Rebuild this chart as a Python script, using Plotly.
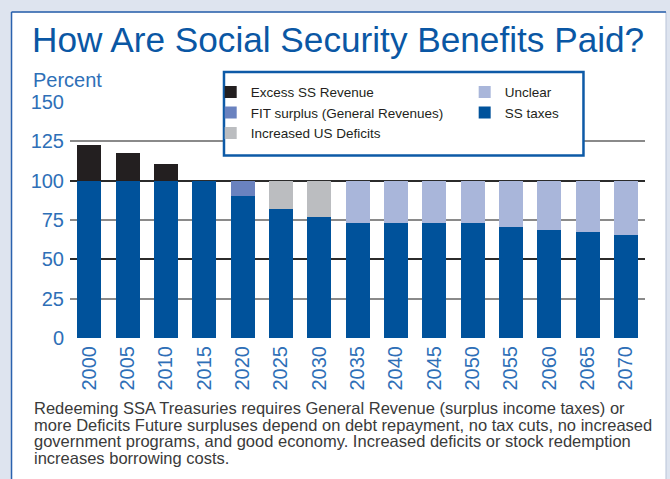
import plotly.graph_objects as go

# ---------------- data ----------------
years = ["2000", "2005", "2010", "2015", "2020", "2025", "2030", "2035",
         "2040", "2045", "2050", "2055", "2060", "2065", "2070"]
ss_taxes = [100, 100, 100, 100, 90, 82, 77, 73, 73, 73, 73, 70.5, 68.5, 67.5, 65.5]
fit_surplus = [None, None, None, None, 10, None, None, None,
               None, None, None, None, None, None, None]
increased_deficits = [None, None, None, None, None, 18, 23, None,
                      None, None, None, None, None, None, None]
unclear = [None, None, None, None, None, None, None, 27,
           27, 27, 27, 29.5, 31.5, 32.5, 34.5]
excess_ss_revenue = [22.5, 17.5, 10.5, None, None, None, None, None,
                     None, None, None, None, None, None, None]
y_ticks = [0, 25, 50, 75, 100, 125, 150]

title_text = "How Are Social Security Benefits Paid?"
footer_lines = [
    "Redeeming SSA Treasuries requires General Revenue (surplus income taxes) or",
    "more Deficits Future surpluses depend on debt repayment, no tax cuts, no increased",
    "government programs, and good economy. Increased deficits or stock redemption",
    "increases borrowing costs.",
]

# ---------------- styles ----------------
C_SS = "#00529B"
C_FIT = "#6A82BF"
C_DEF = "#BBBDC0"
C_UNC = "#A9B6DA"
C_EXC = "#231F20"
BLUE_TXT = "#2E6FB7"
TITLE_BLUE = "#0A57A4"
OUTER = "#DEE4EF"
SANS = "Liberation Sans, Arial, sans-serif"

fig = go.Figure()
# (name, values, colour, legend id, rank within legend)
series = [
    ("SS taxes", ss_taxes, C_SS, "legend2", 2),
    ("FIT surplus (General Revenues)", fit_surplus, C_FIT, "legend", 2),
    ("Increased US Deficits", increased_deficits, C_DEF, "legend", 3),
    ("Unclear", unclear, C_UNC, "legend2", 1),
    ("Excess SS Revenue", excess_ss_revenue, C_EXC, "legend", 1),
]
for name, vals, col, leg, rank in series:
    fig.add_trace(go.Bar(x=years, y=vals, name=name, legend=leg, legendrank=rank,
                         marker=dict(color=col, line=dict(width=0))))

# invisible trace to hold the overlay axis carrying the darker grid lines
fig.add_trace(go.Scatter(x=years, y=[None] * len(years), yaxis="y2", mode="lines",
                         showlegend=False, hoverinfo="skip"))

legend_common = dict(orientation="v", xanchor="left", yanchor="top", itemwidth=30,
                     bgcolor="rgba(0,0,0,0)", borderwidth=0, traceorder="normal",
                     font=dict(family=SANS, size=13.5, color="#231F20"))

fig.update_layout(
    width=670, height=479,
    margin=dict(l=70, r=25, t=102, b=141),
    paper_bgcolor=OUTER, plot_bgcolor="rgba(0,0,0,0)",
    barmode="stack", bargap=0.374,
    legend=dict(x=0.2447, y=1.107, **legend_common),
    legend2=dict(x=0.6864, y=1.107, **legend_common),
    xaxis=dict(type="category", tickangle=-90, showgrid=False, showline=False,
               ticks="", zeroline=False, ticklabelstandoff=3,
               tickfont=dict(family=SANS, size=20, color=BLUE_TXT)),
    yaxis=dict(range=[0, 150], tickvals=y_ticks, showgrid=True, gridcolor="#8A8A8A",
               gridwidth=1.5, zeroline=False, showline=False, ticks="",
               ticklabelstandoff=5,
               tickfont=dict(family=SANS, size=20, color=BLUE_TXT)),
    yaxis2=dict(overlaying="y", range=[0, 150], dtick=50, tick0=0, showgrid=True,
                gridcolor="#2B2B2B", gridwidth=1.5, showticklabels=False,
                zeroline=False, showline=False, ticks=""),
    shapes=[
        dict(type="rect", xref="paper", yref="paper", x0=-0.1017, x1=1.0365,
             y0=-0.65, y1=1.3814, fillcolor="white",
             line=dict(color="#B9C4D8", width=1), layer="below"),
        dict(type="line", xref="paper", yref="paper", x0=-0.1017, x1=-0.1017,
             y0=-0.65, y1=1.3814, line=dict(color="#2A62AE", width=1.5), layer="below"),
        dict(type="line", xref="paper", yref="paper", x0=-0.1017, x1=1.0365,
             y0=1.3814, y1=1.3814, line=dict(color="#2A62AE", width=1.5), layer="below"),
        dict(type="rect", xref="paper", yref="paper", x0=0.2678, x1=0.8930,
             y0=0.7733, y1=1.1271, fillcolor="white",
             line=dict(color="#0D5AA7", width=2.5), layer="above"),
    ],
)

annotations = [
    dict(text=title_text, xref="paper", yref="paper", x=-0.069, y=1.2648,
         xanchor="left", yanchor="middle", showarrow=False,
         font=dict(family=SANS, size=35.2, color=TITLE_BLUE)),
    dict(text="Percent", xref="paper", yref="paper", x=-0.068, y=1.0945,
         xanchor="left", yanchor="middle", showarrow=False,
         font=dict(family=SANS, size=20, color=BLUE_TXT)),
]
footer_y_px = [408.3, 424.8, 441.3, 457.8]
for line, ypx in zip(footer_lines, footer_y_px):
    annotations.append(dict(text=line, xref="paper", yref="paper", x=-0.066,
                            y=(338 - ypx) / 236, xanchor="left", yanchor="middle",
                            showarrow=False,
                            font=dict(family=SANS, size=16.5, color="#3A3A3A")))
fig.update_layout(annotations=annotations)

fig.write_html("out.html")
